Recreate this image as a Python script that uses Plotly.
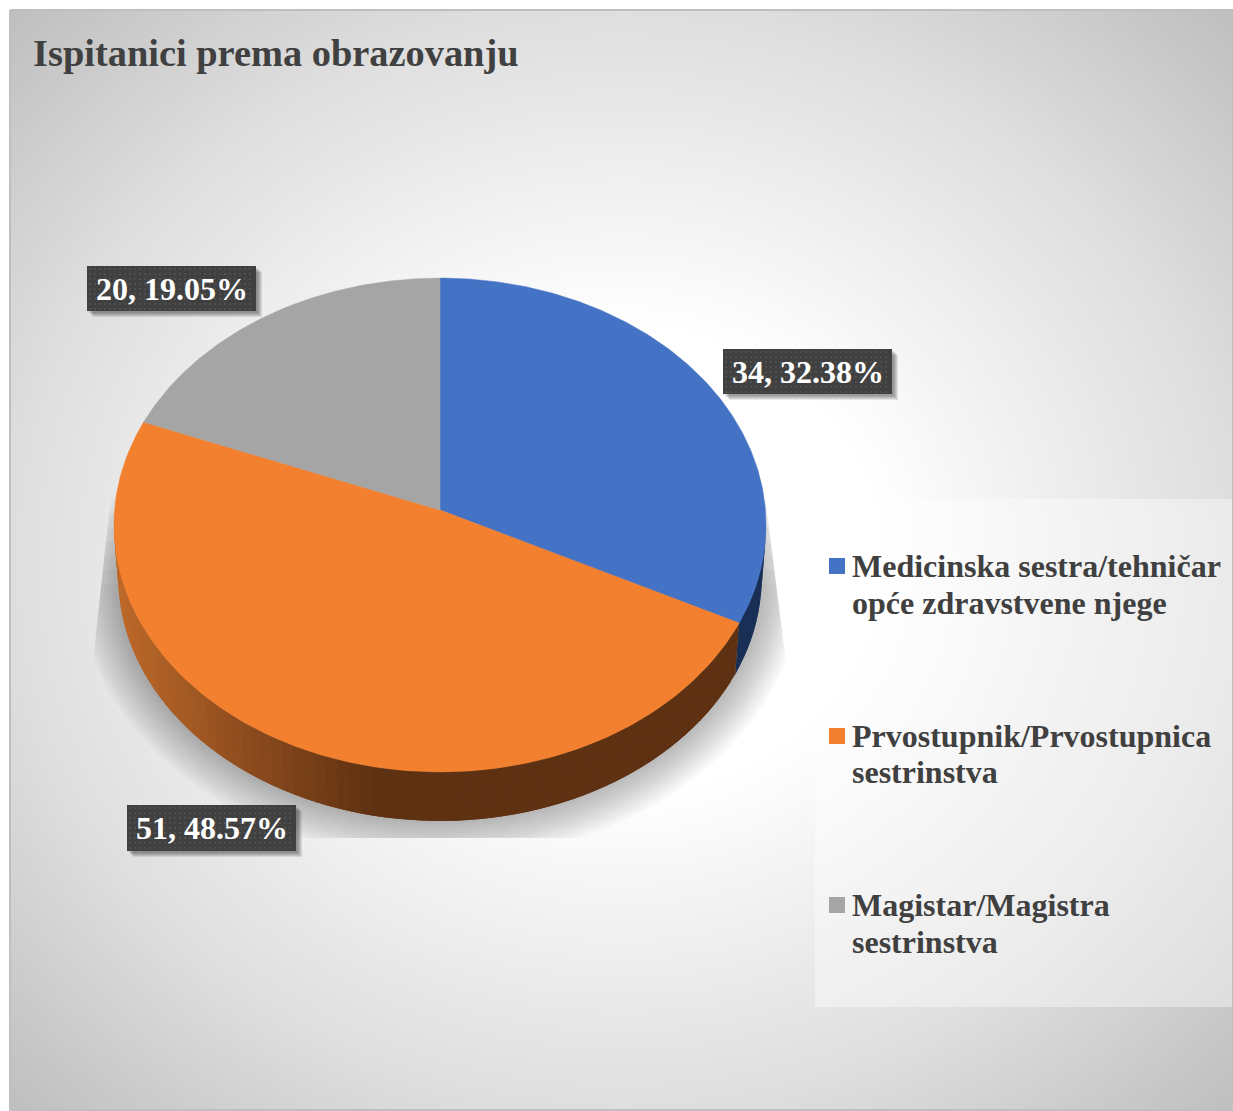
# Ispitanici prema obrazovanju - tilted pie built from scatter polygons
import numpy as np
import plotly.graph_objects as go

TITLE = "Ispitanici prema obrazovanju"
categories = [
    "Medicinska sestra/tehničar<br>opće zdravstvene njege",
    "Prvostupnik/Prvostupnica<br>sestrinstva",
    "Magistar/Magistra<br>sestrinstva",
]
counts = [34, 51, 20]

colors = ["#4472c5", "#f3802f", "#a5a5a5"]
side_colors = ["#1a2f56", "#5f3113", "#636363"]
TEXT_COLOR = "#404040"
FONT = "Liberation Serif"

W, H = 1233, 1111

# pie geometry in page pixels
CX, CY = 440, 510
RX, RY = 325.4, 246
TILT = 0.0607
SIDE_SCALE = 0.987
SIDE_DROP = 52.5

label_boxes = [(723, 892, 349, 394), (127, 296, 805, 851), (87, 256, 266, 311)]
legend_y = [[566, 603], [736, 772], [905, 942]]


def disc_point(theta, scale=1.0, drop=0.0):
    # theta runs clockwise from 12 o'clock, perspective makes the far half smaller
    u, v = np.sin(theta), np.cos(theta)
    w = 1 + TILT * v
    return CX + scale * RX * u / w, CY + drop - scale * RY * v / w


def polygon(x, y, color):
    return go.Scatter(x=list(x), y=list(y), mode="lines", fill="toself", fillcolor=color,
                      line=dict(width=0), hoverinfo="skip", showlegend=False)


def rect(x0, x1, y0, y1, color):
    return polygon([x0, x1, x1, x0, x0], [y0, y0, y1, y1, y0], color)


fig = go.Figure()

# background: radial gradient
nx, ny = 124, 111
xe = np.linspace(10, W, nx + 1)
ye = np.linspace(10, H - 1, ny + 1)
xc, yc = (xe[:-1] + xe[1:]) / 2, (ye[:-1] + ye[1:]) / 2
xx, yy = np.meshgrid(xc, yc)
d = np.hypot((xx - 621) / 611, (yy - 560) / 550)
gray = np.interp(d, [0, 0.42, 1.0, 1.42], [255, 255, 222, 190]) / 255
fig.add_trace(go.Heatmap(x=xe, y=ye, z=gray, zmin=0, zmax=1, zsmooth="best", showscale=False,
                         colorscale=[[0, "#000000"], [1, "#ffffff"]], hoverinfo="skip"))
fig.add_trace(go.Scatter(x=[10, W, W, 10, 10], y=[10, 10, H - 1, H - 1, 10], mode="lines",
                         line=dict(color="#bfbfbf", width=2), hoverinfo="skip", showlegend=False))

# soft shadow under the pie, each layer starts lower so the top fades out
t = np.linspace(0, 2 * np.pi, 241)
for i, e in enumerate(np.linspace(2, 38, 12)):
    sx = 440 + (325 + e) * np.sin(t)
    sy = 575 + (247 + e) * np.cos(t)
    sy = np.clip(sy, 430 + 14 * i, 838)
    sx = np.clip(sx, np.interp(sy, [430, 670, 838], [118, 92, 92]),
                 np.interp(sy, [470, 670, 838], [762, 787, 787]))
    fig.add_trace(polygon(sx, sy, "rgba(0,0,0,0.025)"))

# slice boundaries from the values
shares = np.array(counts) / sum(counts)
edges = np.concatenate([[0], np.cumsum(shares)]) * 2 * np.pi

# side wall, only the near part is visible
VIS_FROM, VIS_TO = np.radians(93), np.radians(268)
for i in range(len(counts)):
    a0, a1 = max(edges[i], VIS_FROM), min(edges[i + 1], VIS_TO)
    if a1 <= a0:
        continue
    steps = max(2, int(np.degrees(a1 - a0) / 2))
    th = np.linspace(a0, a1, steps + 1)
    for s in range(steps):
        # each segment runs on under the next one so no seams show
        seg = np.linspace(th[s], th[min(s + 2, steps)], 6)
        x1, y1 = disc_point(seg)
        x2, y2 = disc_point(seg[::-1], SIDE_SCALE, SIDE_DROP)
        col = side_colors[i]
        if i == 1:
            # orange wall gets lighter towards the left
            f = np.clip((380 - disc_point(th[s])[0]) / 260, 0, 1)
            c0, c1 = np.array([0x5f, 0x31, 0x13]), np.array([0xbd, 0x69, 0x2a])
            rgb = (c0 + (c1 - c0) * f).astype(int)
            col = f"rgb({rgb[0]},{rgb[1]},{rgb[2]})"
        fig.add_trace(polygon(np.r_[x1, x2, x1[0]], np.r_[y1, y2, y1[0]], col))

# top face
for i in range(len(counts)):
    th = np.linspace(edges[i], edges[i + 1], 180)
    x, y = disc_point(th)
    tr = polygon(np.r_[CX, x, CX], np.r_[CY, y, CY], colors[i])
    tr.line = dict(width=0.5, color=colors[i])
    fig.add_trace(tr)

# legend panel and keys
fig.add_trace(rect(815, 1232, 499, 1007, "rgba(255,255,255,0.39)"))
fig.add_trace(go.Scatter(x=[837] * 3, y=[ys[0] for ys in legend_y], mode="markers",
                         marker=dict(symbol="square", size=16, color=colors, line=dict(width=0)),
                         hoverinfo="skip", showlegend=False))

# data label boxes with shadow and dot texture
for (x0, x1, y0, y1) in label_boxes:
    for k in range(1, 6):
        fig.add_trace(rect(x0 + k + 1, x1 + k + 1, y0 + k + 1, y1 + k + 1, "rgba(0,0,0,0.09)"))
    fig.add_trace(rect(x0, x1, y0, y1, "#404040"))
    gx, gy = np.meshgrid(np.arange(x0 + 3, x1 - 1, 5), np.arange(y0 + 3, y1 - 1, 5))
    fig.add_trace(go.Scatter(x=gx.ravel(), y=gy.ravel(), mode="markers",
                             marker=dict(symbol="square", size=1.6, color="#5a5a5a", line=dict(width=0)),
                             hoverinfo="skip", showlegend=False))

annotations = [dict(x=31, y=53, text=f"<b>{TITLE}</b>", xanchor="left", yanchor="middle", showarrow=False,
                    font=dict(family=FONT, size=38.4, color=TEXT_COLOR))]
for (x0, x1, y0, y1), n, share in zip(label_boxes, counts, shares):
    annotations.append(dict(x=(x0 + x1) / 2, y=(y0 + y1) / 2, text=f"<b>{n}, {share * 100:.2f}%</b>",
                            xanchor="center", yanchor="middle", showarrow=False,
                            font=dict(family=FONT, size=32, color="#ffffff")))
for cat, ys in zip(categories, legend_y):
    for line, y in zip(cat.split("<br>"), ys):
        annotations.append(dict(x=850, y=y, text=f"<b>{line}</b>", xanchor="left", yanchor="middle",
                                showarrow=False, font=dict(family=FONT, size=32, color=TEXT_COLOR)))

fig.update_layout(
    width=W,
    height=H,
    margin=dict(l=0, r=0, t=0, b=0),
    paper_bgcolor="#ffffff",
    plot_bgcolor="#ffffff",
    showlegend=False,
    xaxis=dict(range=[0, W], visible=False, fixedrange=True),
    yaxis=dict(range=[H, 0], visible=False, fixedrange=True),
    annotations=annotations,
)

fig.write_html("out.html", post_script="document.body.style.margin='0';", config=dict(displayModeBar=False))
